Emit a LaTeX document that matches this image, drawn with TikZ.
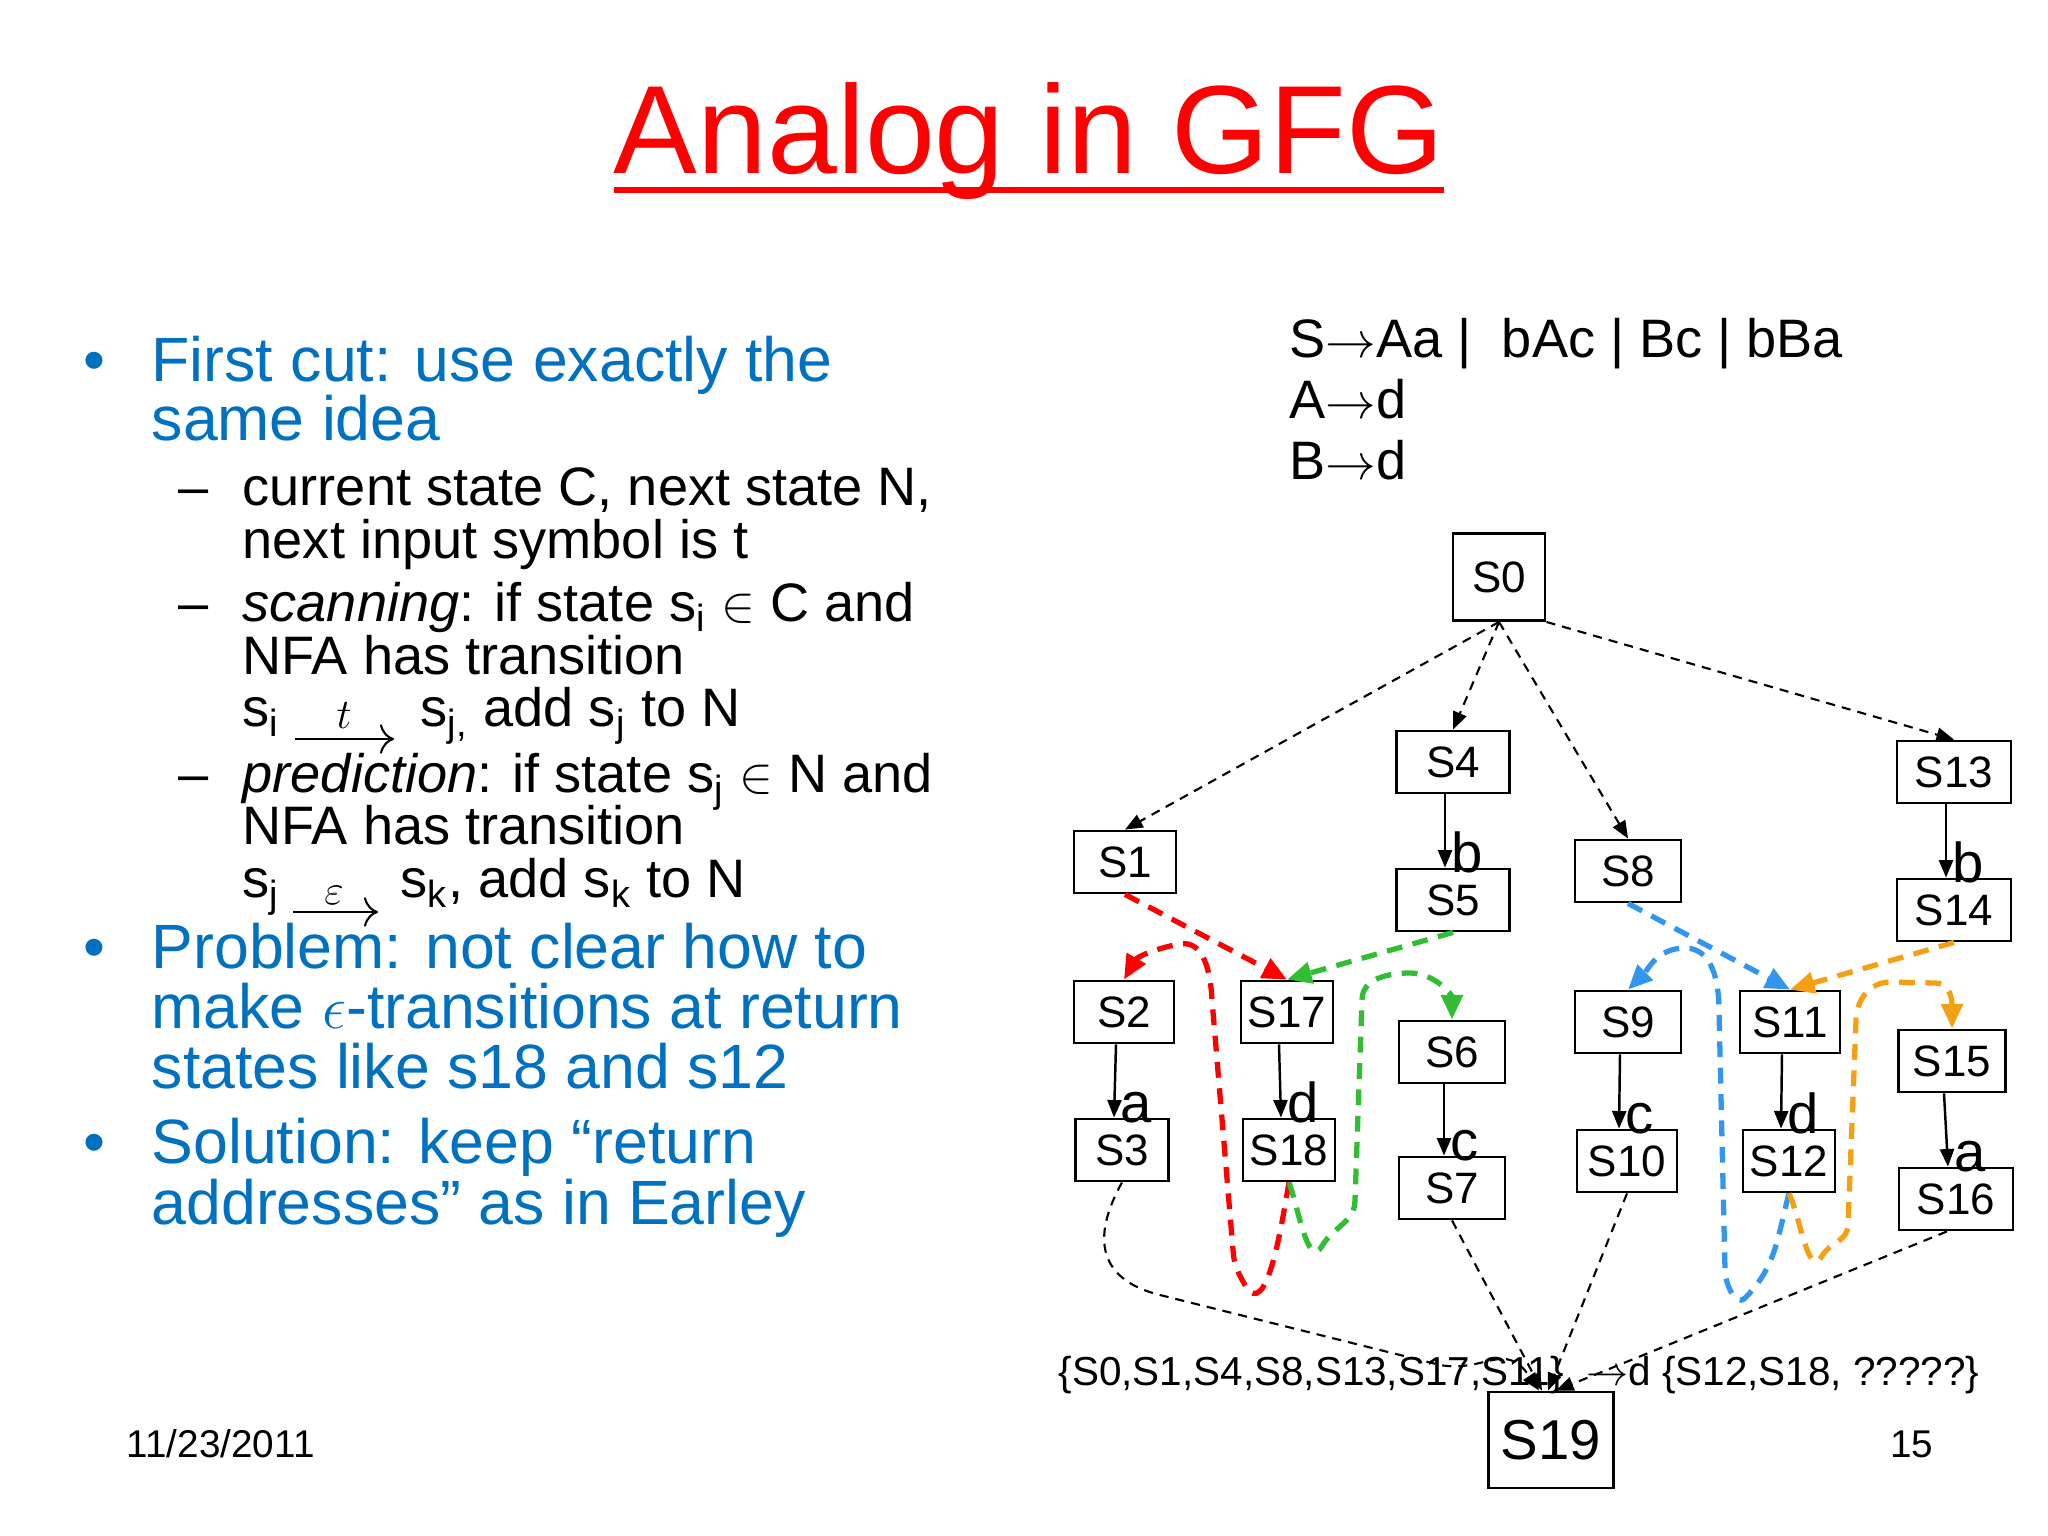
\documentclass[tikz,border=0pt]{standalone}
\usepackage{fontspec}
\setmainfont{Liberation Sans}
\usetikzlibrary{arrows.meta,calc}
\definecolor{tblue}{RGB}{0,112,192}
\definecolor{gr}{RGB}{50,190,50}
\definecolor{bl}{RGB}{50,150,240}
\definecolor{og}{RGB}{245,160,20}
\newcommand{\rar}{\ensuremath{\rightarrow}}
\begin{document}
\begin{tikzpicture}[x=0.01cm,y=-0.01cm,
 box/.style={draw,line width=0.8pt,inner sep=0pt,minimum height=0.62cm,font=\fontsize{12.5}{14}\selectfont},
 bt/.style={anchor=base west,inner sep=0pt,text=tblue,font=\fontsize{17.8}{20}\selectfont},
 st/.style={anchor=base west,inner sep=0pt,font=\fontsize{15.4}{18}\selectfont},
 sol/.style={-{Triangle[length=5pt,width=4pt]},line width=0.7pt},
 lab/.style={anchor=south west,inner sep=0pt,font=\fontsize{16}{18}\selectfont},
 bd/.style={-{Triangle[length=5pt,width=4pt]},line width=0.6pt,dash pattern=on 2.6pt off 2pt},
 cd/.style={-{Triangle[length=7pt,width=6pt]},line width=1.5pt,dash pattern=on 4.5pt off 3pt}]
\useasboundingbox (0,0) rectangle (2048,1536);
% title
\node[anchor=base,inner sep=0pt,text=red,font=\fontsize{35.7}{40}\selectfont] (title) at (1029,173) {Analog in GFG};
\draw[red,line width=1.6pt] (614,190) -- (1444,190);
% left text
\node[bt] (b1) at (83,381) {•};
\node[bt] (l1) at (151,381) {First cut: use exactly the};
\node[bt] (l2) at (151,440) {same idea};
\node[st] (d1) at (178,505) {–};
\node[st] (l3) at (242,505) {current state C, next state N,};
\node[st] (l4) at (242,558) {next input symbol is t};
\node[st] (d2) at (178,621) {–};
\node[st] (l5) at (242,621) {\textit{scanning}: if state s\textsubscript{i} $\in$ C and};
\node[st] (l6) at (242,674) {NFA has transition};
\node[st] (l7a) at (242,726) {s\textsubscript{i}};
\node[st] (l7b) at (420,726) {s\textsubscript{j,} add s\textsubscript{j} to N};
\draw[-{To[length=4pt]},line width=0.6pt] (295,739) -- (394,739);
\node[anchor=base,inner sep=0pt,font=\fontsize{13}{14}\itshape] (tl) at (344,728) {$t$};
\node[st] (d3) at (178,792) {–};
\node[st] (l8) at (242,792) {\textit{prediction}: if state s\textsubscript{j} $\in$ N and};
\node[st] (l9) at (242,844) {NFA has transition};
\node[st] (l10a) at (242,897) {s\textsubscript{j}};
\node[st] (l10b) at (400,897) {s\textsubscript{k}, add s\textsubscript{k} to N};
\draw[-{To[length=4pt]},line width=0.6pt] (293,912) -- (378,912);
\node[anchor=base,inner sep=0pt,font=\fontsize{12}{14}] (el) at (334,904) {$\varepsilon$};
\node[bt] (b2) at (83,968) {•};
\node[bt] (l11) at (151,968) {Problem: not clear how to};
\node[bt] (l12) at (151,1028) {make $\epsilon$-transitions at return};
\node[bt] (l13) at (151,1088) {states like s18 and s12};
\node[bt] (b3) at (83,1163) {•};
\node[bt] (l14) at (151,1163) {Solution: keep “return};
\node[bt] (l15) at (151,1224) {addresses” as in Earley};
% grammar
\node[st] (g1) at (1289,357) {S\rar Aa |\ \ bAc | Bc | bBa};
\node[st] (g2) at (1289,418) {A\rar d};
\node[st] (g3) at (1289,479) {B\rar d};
% nodes
\node[box,minimum width=0.92cm,minimum height=0.87cm] (s0) at (1499,577) {S0};
\node[box,minimum width=1.13cm] (s4) at (1453,762) {S4};
\node[box,minimum width=1.13cm] (s5) at (1453,900) {S5};
\node[box,minimum width=1.02cm] (s1) at (1125,862) {S1};
\node[box,minimum width=1.06cm] (s8) at (1628,871) {S8};
\node[box,minimum width=1.14cm] (s13) at (1954,772) {S13};
\node[box,minimum width=1.14cm] (s14) at (1954,910) {S14};
\node[box,minimum width=1.0cm] (s2) at (1124,1012) {S2};
\node[box,minimum width=0.93cm] (s3) at (1122,1150) {S3};
\node[box,minimum width=0.92cm] (s17) at (1287,1012) {S17};
\node[box,minimum width=0.92cm] (s18) at (1289,1150) {S18};
\node[box,minimum width=1.06cm] (s6) at (1452,1052) {S6};
\node[box,minimum width=1.06cm] (s7) at (1452,1188) {S7};
\node[box,minimum width=1.06cm] (s9) at (1628,1022) {S9};
\node[box,minimum width=1.0cm] (s10) at (1627,1161) {S10};
\node[box,minimum width=1.0cm] (s11) at (1790,1022) {S11};
\node[box,minimum width=0.92cm] (s12) at (1789,1161) {S12};
\node[box,minimum width=1.07cm] (s15) at (1952,1061) {S15};
\node[box,minimum width=1.14cm] (s16) at (1956,1199) {S16};
\node[box,minimum width=1.25cm,minimum height=0.96cm,font=\fontsize{16}{18}\selectfont] (s19) at (1551,1440) {S19};
% solid labelled arrows
\foreach \a/\b/\l in {s4/s5/b,s13/s14/b,s2/s3/a,s17/s18/d,s6/s7/c,s9/s10/c,s11/s12/d,s15/s16/a}{
  \draw[sol] ($(\a.south)+(-8,0)$) -- ($(\b.north)+(-8,0)$);
  \node[lab] at ($(\b.north)+(-2,6)$) {\l};
}
% black dashed
\draw[bd] (s0.south) -- (s1.north);
\draw[bd] (s0.south) -- (s4.north);
\draw[bd] (s0.south) -- (s8.north);
\draw[bd] (s0.south east) -- (s13.north);
\draw[bd] (s3.south) .. controls (1090,1240) and (1100,1280) .. (1160,1295) -- (1440,1365) .. controls (1485,1373) and (1505,1340) .. ($(s19.north)+(-12,0)$);
\draw[bd] (s7.south) -- ($(s19.north)+(-9,0)$);
\draw[bd] (s10.south) -- ($(s19.north)+(-3,0)$);
\draw[bd] ($(s16.south)+(-9,0)$) -- ($(s19.north)+(5,0)$);
% coloured
\draw[cd,red] (s1.south) -- (s17.north);
\draw[cd,red] (s18.south) to[out=-100,in=-60] (1245,1285) to[out=120,in=-87] (1233,1250) -- (1212,1000) to[out=93,in=10] (1180,944) to[out=190,in=60] (s2.north);
\draw[cd,gr] (s5.south) -- (s17.north);
\draw[cd,gr] (s18.south) to[out=-70,in=-120] (1322,1246) to[out=60,in=-90] (1355,1200) -- (1362,1000) to[out=90,in=180] (1410,973) to[out=0,in=90] (s6.north);
\draw[cd,bl] (s8.south) -- (s11.north);
\draw[cd,bl] (s12.south) to[out=-105,in=45] (1745,1298) to[out=225,in=-90] (1725,1270) -- (1719,1010) to[out=90,in=0] (1685,948) to[out=180,in=45] (s9.north);
\draw[cd,og] (s14.south) -- (s11.north);
\draw[cd,og] (s12.south) to[out=-65,in=-120] (1822,1256) to[out=60,in=-90] (1848,1225) -- (1856,1020) to[out=90,in=180] (1890,982) -- (1935,983) to[out=0,in=90] (s15.north);
% bottom texts
\node[anchor=base west,inner sep=0pt,font=\fontsize{11.5}{13}\selectfont] (bt) at (1058,1385) {\{S0,S1,S4,S8,S13,S17,S11\}\ \ $\rightarrow$d \{S12,S18, ?????\}};
\node[anchor=base west,inner sep=0pt,font=\fontsize{11}{13}\selectfont] (date) at (126,1457) {11/23/2011};
\node[anchor=base east,inner sep=0pt,font=\fontsize{11}{13}\selectfont] (pg) at (1934,1457) {15};
\end{tikzpicture}
\end{document}
